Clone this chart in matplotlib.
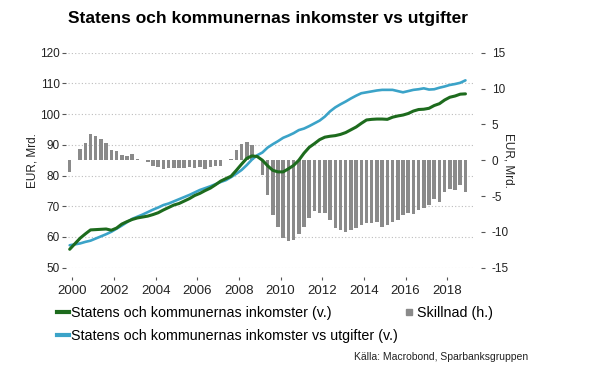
import matplotlib
matplotlib.use("Agg")
import matplotlib.pyplot as plt
import numpy as np
from matplotlib.lines import Line2D

plt.rcParams['font.family'] = ['Liberation Sans', 'DejaVu Sans']
plt.rcParams['axes.unicode_minus'] = False

# quarterly observations, 1999Q4 .. 2018Q4 (plotted at mid-quarter)
start_year = 1999.875
n_quarters = 77

# Statens och kommunernas inkomster (v.), EUR mrd
inkomster = [56.0, 57.8, 59.6, 61.0, 62.3, 62.4, 62.5, 62.6, 62.2, 62.9,
             64.2, 65.0, 65.7, 66.2, 66.5, 66.8, 67.3, 67.9, 68.8, 69.6,
             70.4, 70.9, 71.7, 72.5, 73.5, 74.2, 75.1, 75.9, 77.0, 78.2,
             79.0, 79.8, 81.7, 83.7, 85.6, 86.4, 86.2, 85.0, 83.2, 81.7,
             81.2, 81.2, 82.2, 83.3, 85.0, 87.3, 89.2, 90.4, 91.7, 92.5,
             92.8, 93.0, 93.4, 94.0, 94.9, 95.8, 97.0, 98.1, 98.3, 98.4,
             98.4, 98.3, 99.0, 99.4, 99.7, 100.2, 101.0, 101.5, 101.6, 101.9,
             102.8, 103.4, 104.6, 105.5, 105.9, 106.5, 106.6]

# Statens och kommunernas inkomster vs utgifter (v.), EUR mrd
utgifter = [57.3, 57.6, 57.9, 58.4, 58.8, 59.5, 60.2, 60.9, 61.7, 62.7,
            63.7, 64.8, 65.9, 66.6, 67.3, 68.1, 68.9, 69.6, 70.4, 70.9,
            71.6, 72.3, 73.0, 73.7, 74.5, 75.3, 75.9, 76.5, 77.2, 77.9,
            78.5, 79.5, 80.6, 81.8, 83.4, 85.2, 86.6, 87.5, 89.1, 90.2,
            91.2, 92.3, 93.0, 93.8, 94.8, 95.3, 96.1, 97.0, 97.9, 99.2,
            100.9, 102.2, 103.2, 104.1, 105.1, 106.0, 106.8, 107.1, 107.4, 107.7,
            107.9, 107.9, 107.9, 107.5, 107.1, 107.5, 107.9, 108.1, 108.4, 108.0,
            108.1, 108.6, 109.0, 109.5, 109.8, 110.2, 111.0]

# Skillnad (h.), EUR mrd
skillnad = [-1.6, 0.0, 1.5, 2.4, 3.7, 3.35, 2.9, 2.4, 1.4, 1.3,
            0.75, 0.55, 0.85, 0.15, 0.0, -0.3, -0.8, -1.0, -1.25, -1.15,
            -1.15, -1.07, -1.07, -1.0, -1.07, -0.98, -1.2, -0.93, -0.84, -0.8,
            0.0, 0.15, 1.4, 2.2, 2.5, 2.1, 0.0, -2.1, -4.9, -7.7,
            -9.3, -10.9, -11.3, -11.1, -10.3, -9.3, -8.1, -7.1, -7.4, -7.4,
            -8.4, -9.4, -9.8, -10.0, -9.8, -9.5, -9.0, -8.7, -8.7, -8.6,
            -9.3, -9.1, -8.6, -8.3, -7.7, -7.4, -7.5, -7.0, -6.6, -6.3,
            -5.4, -5.9, -4.5, -4.0, -4.2, -3.5, -4.5]

left_ticks = [50, 60, 70, 80, 90, 100, 110, 120]
right_ticks = [-15, -10, -5, 0, 5, 10, 15]
year_ticks = list(range(2000, 2019, 2))

green = '#1d6b1d'
blue = '#3ba3c8'
grey = '#8a8a8a'
txt = '#222222'

x = start_year + 0.25 * np.arange(n_quarters)

fig = plt.figure(figsize=(5.96, 3.73), dpi=100)
rect = [68 / 596, 1 - 267.7 / 373, (475 - 68) / 596, (267.7 - 52.7) / 373]

# bottom layer: grid + left axis
ax = fig.add_axes(rect)
ax.set_xlim(1999.794, 2019.333)
ax.set_ylim(50, 120)
ax.set_yticks(left_ticks)
ax.set_xticks(year_ticks)
ax.grid(axis='y', linestyle=(0, (1, 2)), color='#bdbdbd', linewidth=0.8)
for s in ax.spines.values():
    s.set_color('none')
ax.spines['left'].set_position(('outward', 1.5))
ax.spines['bottom'].set_position(('outward', 7))
ax.tick_params(axis='y', length=3, width=0.8, color='#555555', pad=1.5,
               labelsize=8.5, labelcolor=txt)
ax.tick_params(axis='x', length=2.5, width=0.8, color='#555555', pad=3,
               labelsize=9.5, labelcolor=txt)
ax.set_ylabel('EUR, Mrd.', fontsize=8.5, color=txt, labelpad=1)

# middle layer: bars on right axis
axb = ax.twinx()
axb.set_ylim(-15, 15)
axb.set_yticks(right_ticks)
axb.bar(x, skillnad, width=0.17, color=grey, zorder=2)
for s in axb.spines.values():
    s.set_color('none')
axb.spines['right'].set_position(('outward', 4))
axb.tick_params(axis='y', length=3, width=0.8, color='#555555', pad=5,
                labelsize=8.5, labelcolor=txt)
axb.set_ylabel('EUR, Mrd.', fontsize=8.5, color=txt, rotation=-90, labelpad=4)

# top layer: lines on left scale
axl = ax.twinx()
axl.set_ylim(50, 120)
axl.axis('off')
axl.plot(x, utgifter, color=blue, linewidth=1.9, solid_capstyle='round')
axl.plot(x, inkomster, color=green, linewidth=2.2, solid_capstyle='round')

fig.text(68 / 596, 1 - 19 / 373, 'Statens och kommunernas inkomster vs utgifter',
         fontsize=12.5, fontweight='bold', color='black', va='center', ha='left')

handles = [Line2D([], [], color=green, linewidth=3),
           Line2D([], [], color=blue, linewidth=3),
           Line2D([], [], color=grey, marker='s', markersize=4, linestyle='none')]
labels = ['Statens och kommunernas inkomster (v.)',
          'Statens och kommunernas inkomster vs utgifter (v.)',
          'Skillnad (h.)']
fig.legend(handles, labels, loc='upper left', bbox_to_anchor=(57 / 596, 1 - 306 / 373),
           ncol=2, frameon=False, fontsize=10.3, handlelength=0.85, handletextpad=0.15,
           columnspacing=0.3, labelspacing=0.62, borderaxespad=0, borderpad=0)

fig.text(528 / 596, 1 - 357 / 373, 'Källa: Macrobond, Sparbanksgruppen',
         fontsize=7.5, color=txt, ha='right', va='center')

fig.savefig('out.png', dpi=100)
